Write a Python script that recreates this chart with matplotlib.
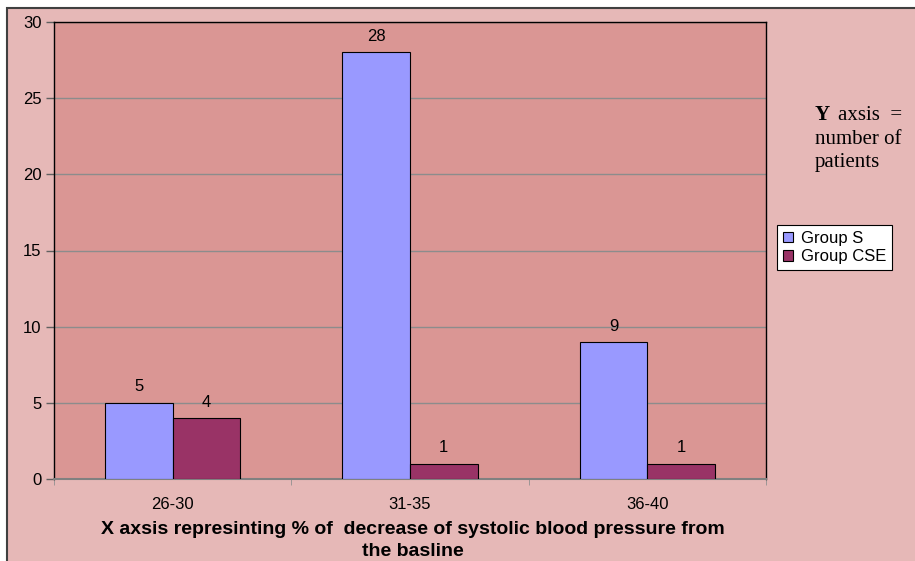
import numpy as np
import matplotlib
matplotlib.use("Agg")
import matplotlib.pyplot as plt
from matplotlib.patches import Rectangle

categories = ["26-30", "31-35", "36-40"]
group_s = [5, 28, 9]
group_cse = [4, 1, 1]
series_names = ["Group S", "Group CSE"]
yticks = [0, 5, 10, 15, 20, 25, 30]

FIG_BG = "#E6B8B7"
PLOT_BG = "#DA9694"
COL_S = "#9999FF"
COL_CSE = "#993366"

plt.rcParams["font.family"] = ["Liberation Sans", "DejaVu Sans"]

W, H = 915, 561
fig = plt.figure(figsize=(W / 100, H / 100), dpi=100)
fig.patch.set_facecolor("white")

# chart area frame (drawn on a background axes)
bg = fig.add_axes([0, 0, 1, 1], zorder=-1)
bg.set_axis_off()
bg.set_xlim(0, W)
bg.set_ylim(H, 0)
bg.add_patch(Rectangle((7, 8), W, H, facecolor=FIG_BG, edgecolor="#404040", linewidth=1.5))

ax = fig.add_axes([54 / W, 1 - 479 / H, (766 - 54) / W, (479 - 22) / H])
ax.set_facecolor(PLOT_BG)

x = np.arange(len(categories))
bw = 0.285
b1 = ax.bar(x - bw / 2, group_s, bw, color=COL_S, edgecolor="black", linewidth=0.8,
            label=series_names[0], zorder=3)
b2 = ax.bar(x + bw / 2, group_cse, bw, color=COL_CSE, edgecolor="black", linewidth=0.8,
            label=series_names[1], zorder=3)
for bars in (b1, b2):
    for r in bars:
        ax.text(r.get_x() + r.get_width() / 2, r.get_height() + 0.55, f"{int(r.get_height())}",
                ha="center", va="bottom", fontsize=12, zorder=4)

ax.set_xlim(-0.5, len(categories) - 0.5)
ax.set_ylim(0, 30)
ax.set_yticks(yticks)
ax.yaxis.grid(True, color="#8c8c8c", linewidth=1)
ax.set_axisbelow(True)
ax.set_xticks(x)
ax.set_xticklabels(categories)
ax.set_xticks(np.arange(len(categories) + 1) - 0.5, minor=True)
ax.tick_params(axis="x", which="major", length=0, pad=13, labelsize=12)
ax.tick_params(axis="x", which="minor", length=4, color="#909090", direction="out")
ax.tick_params(axis="y", length=6, width=1, labelsize=12, pad=3, direction="out",
               color="#606060")
for side in ("left", "top", "right"):
    ax.spines[side].set_color("black")
    ax.spines[side].set_linewidth(1)
ax.spines["bottom"].set_color("#808080")
ax.spines["bottom"].set_linewidth(1.5)

fig.text(413 / W, 1 - 529 / H,
         "X axsis represinting % of  decrease of systolic blood pressure from",
         ha="center", va="center", fontsize=14, fontweight="bold")
fig.text(413 / W, 1 - 551 / H, "the basline",
         ha="center", va="center", fontsize=14, fontweight="bold")

tx = 815 / W
fig.text(tx, 1 - 115 / H, "Y", fontsize=15, family="Liberation Serif",
         fontweight="bold", va="center", ha="left")
fig.text(tx + 23 / W, 1 - 115 / H, "axsis  =", fontsize=15, family="Liberation Serif",
         va="center", ha="left")
fig.text(tx, 1 - 139 / H, "number of", fontsize=15, family="Liberation Serif",
         va="center", ha="left")
fig.text(tx, 1 - 162 / H, "patients", fontsize=15, family="Liberation Serif",
         va="center", ha="left")

leg = fig.legend(handles=[b1, b2], loc="upper left",
                 bbox_to_anchor=(777 / W, 1 - 225 / H), frameon=True, fancybox=False,
                 fontsize=12, handlelength=0.6, handleheight=0.6, handletextpad=0.5,
                 borderpad=0.35, borderaxespad=0, labelspacing=0.2)
leg.get_frame().set_edgecolor("black")
leg.get_frame().set_linewidth(0.8)
leg.get_frame().set_facecolor("white")
leg.get_frame().set_alpha(1)

fig.savefig("out.png", dpi=100, facecolor=fig.get_facecolor())
